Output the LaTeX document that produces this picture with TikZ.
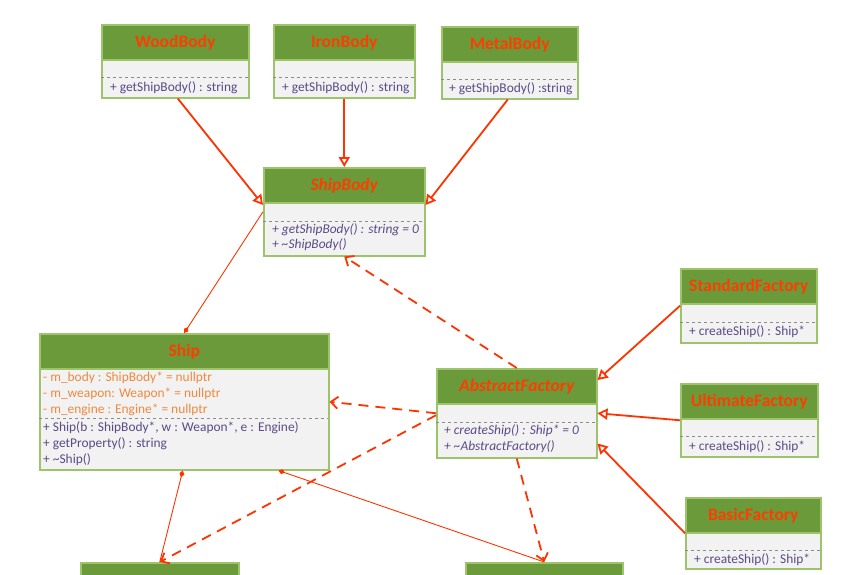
\documentclass[tikz,border=0pt]{standalone}
\usepackage{fontspec}
\setmainfont{Carlito}
\usetikzlibrary{arrows.meta}

\definecolor{hdrgreen}{HTML}{6B9A3A}
\definecolor{boxline}{HTML}{9DC36B}
\definecolor{boxfill}{HTML}{F2F2F2}
\definecolor{titlered}{HTML}{FF3D00}
\definecolor{memtext}{HTML}{5B4A86}
\definecolor{attrtext}{HTML}{F0883E}
\definecolor{linkred}{HTML}{FF3300}
\definecolor{sepgray}{HTML}{8C8C8C}

\begin{document}
\begin{tikzpicture}[x=1pt,y=-1pt,
  cls/.style={draw=boxline, line width=1.5pt, fill=boxfill, inner sep=0pt, anchor=north west},
  hdr/.style={draw=boxline, line width=1.5pt, fill=hdrgreen, inner sep=0pt, anchor=north west,
    minimum height=35pt, text=titlered, font=\fontsize{17.5}{20}\selectfont\bfseries},
  mem/.style={anchor=west, inner sep=0pt, text=memtext, font=\fontsize{13.4}{15}\selectfont},
  attr/.style={mem, text=attrtext},
  sep/.style={draw=sepgray, dashed, line width=0.8pt},
  gen/.style={draw=linkred, line width=1.8pt, -{Triangle[open, length=10pt, width=11pt]}},
  dep/.style={draw=linkred, line width=1.8pt, dash pattern=on 10pt off 7pt,
    -{Straight Barb[length=7pt, width=12pt]}},
  agg/.style={draw=linkred, line width=0.9pt, {Diamond[length=7pt, width=5pt]}-}]
  \clip (0,0) rectangle (861,574);
  \fill[white] (0,0) rectangle (861,574);

  % body classes
  \node[cls, minimum width=147pt, minimum height=73pt] (wood) at (101,24) {};
  \node[hdr, minimum width=147pt] (woodH) at (wood.north west) {WoodBody};
  \draw[sep] (101,77) -- (248,77);
  \node[mem] (woodM) at (110,88) {+ getShipBody() : string};

  \node[cls, minimum width=141pt, minimum height=73pt] (iron) at (273,24) {};
  \node[hdr, minimum width=141pt] (ironH) at (iron.north west) {IronBody};
  \draw[sep] (273,77) -- (414,77);
  \node[mem] (ironM) at (282,88) {+ getShipBody() : string};

  \node[cls, minimum width=136pt, minimum height=72pt] (metal) at (441,26) {};
  \node[hdr, minimum width=136pt] (metalH) at (metal.north west) {MetalBody};
  \draw[sep] (441,79) -- (577,79);
  \node[mem] (metalM) at (449,89) {+ getShipBody() :string};

  \node[cls, minimum width=161pt, minimum height=88pt] (shipbody) at (263,167) {};
  \node[hdr, minimum width=161pt, font=\fontsize{17.5}{20}\selectfont\bfseries\itshape] (shipbodyH) at (shipbody.north west) {ShipBody};
  \draw[sep] (263,221) -- (424,221);
  \node[mem, font=\fontsize{13.4}{15}\selectfont\itshape] (shipbodyM1) at (272,230) {+ getShipBody() : string = 0};
  \node[mem, font=\fontsize{13.4}{15}\selectfont\itshape] (shipbodyM2) at (272,245) {+ \textasciitilde ShipBody()};

  % ship
  \node[cls, minimum width=289pt, minimum height=136pt] (ship) at (39,333) {};
  \node[hdr, minimum width=289pt] (shipH) at (ship.north west) {Ship};
  \node[attr] (shipA1) at (43,378) {- m\_body : ShipBody* = nullptr};
  \node[attr] (shipA2) at (43,394) {- m\_weapon: Weapon* = nullptr};
  \node[attr] (shipA3) at (43,410) {- m\_engine : Engine* = nullptr};
  \draw[sep] (39,418) -- (328,418);
  \node[mem] (shipM1) at (43,428) {+ Ship(b : ShipBody*, w : Weapon*, e : Engine)};
  \node[mem] (shipM2) at (43,444) {+ getProperty() : string};
  \node[mem] (shipM3) at (43,460) {+ \textasciitilde Ship()};

  % factories
  \node[cls, minimum width=160pt, minimum height=89pt] (af) at (436,368) {};
  \node[hdr, minimum width=160pt, font=\fontsize{17.5}{20}\selectfont\bfseries\itshape] (afH) at (af.north west) {AbstractFactory};
  \draw[sep] (436,422) -- (596,422);
  \node[mem, font=\fontsize{13.4}{15}\selectfont\itshape] (afM1) at (444,431) {+ createShip() : Ship* = 0};
  \node[mem, font=\fontsize{13.4}{15}\selectfont\itshape] (afM2) at (444,447) {+ \textasciitilde AbstractFactory()};

  \node[cls, minimum width=136pt, minimum height=74pt] (std) at (680,268) {};
  \node[hdr, minimum width=136pt] (stdH) at (std.north west) {StandardFactory};
  \draw[sep] (680,322) -- (816,322);
  \node[mem] (stdM) at (689,332) {+ createShip() : Ship*};

  \node[cls, minimum width=137pt, minimum height=73pt] (ult) at (680,383) {};
  \node[hdr, minimum width=137pt] (ultH) at (ult.north west) {UltimateFactory};
  \draw[sep] (680,436) -- (817,436);
  \node[mem] (ultM) at (689,447) {+ createShip() : Ship*};

  \node[cls, minimum width=135pt, minimum height=71pt] (basic) at (685,497) {};
  \node[hdr, minimum width=135pt] (basicH) at (basic.north west) {BasicFactory};
  \draw[sep] (685,550) -- (820,550);
  \node[mem] (basicM) at (694,560) {+ createShip() : Ship*};

  % part classes, cut off at the bottom
  \node[hdr, minimum width=158pt] (wpn) at (80,562) {};
  \node[hdr, minimum width=157pt] (eng) at (465,562) {};

  % inheritance
  \draw[gen] ([xshift=2.5pt]wood.south) -- ([yshift=-38pt]shipbody.north west);
  \draw[gen] (iron.south) -- (shipbody.north);
  \draw[gen] ([xshift=-2pt]metal.south) -- ([yshift=-38pt]shipbody.north east);
  \draw[gen] (std.west) -- ([yshift=-12pt]af.north east);
  \draw[gen] (ult.west) -- (af.east);
  \draw[gen] (basic.west) -- ([yshift=15pt]af.south east);

  % aggregation
  \draw[agg] (ship.north) -- (shipbody.west);
  \draw[agg] ([xshift=-1.5pt]ship.south) -- (wpn.north);
  \draw[agg] ([xshift=-51pt]ship.south east) -- (eng.north);

  % dependencies
  \draw[dep] (af.west) -- (ship.east);
  \draw[dep] ([yshift=-2pt]af.west) -- (wpn.north);
  \draw[dep] (af.north) -- (shipbody.south);
  \draw[dep] (af.south) -- (eng.north);
\end{tikzpicture}
\end{document}
